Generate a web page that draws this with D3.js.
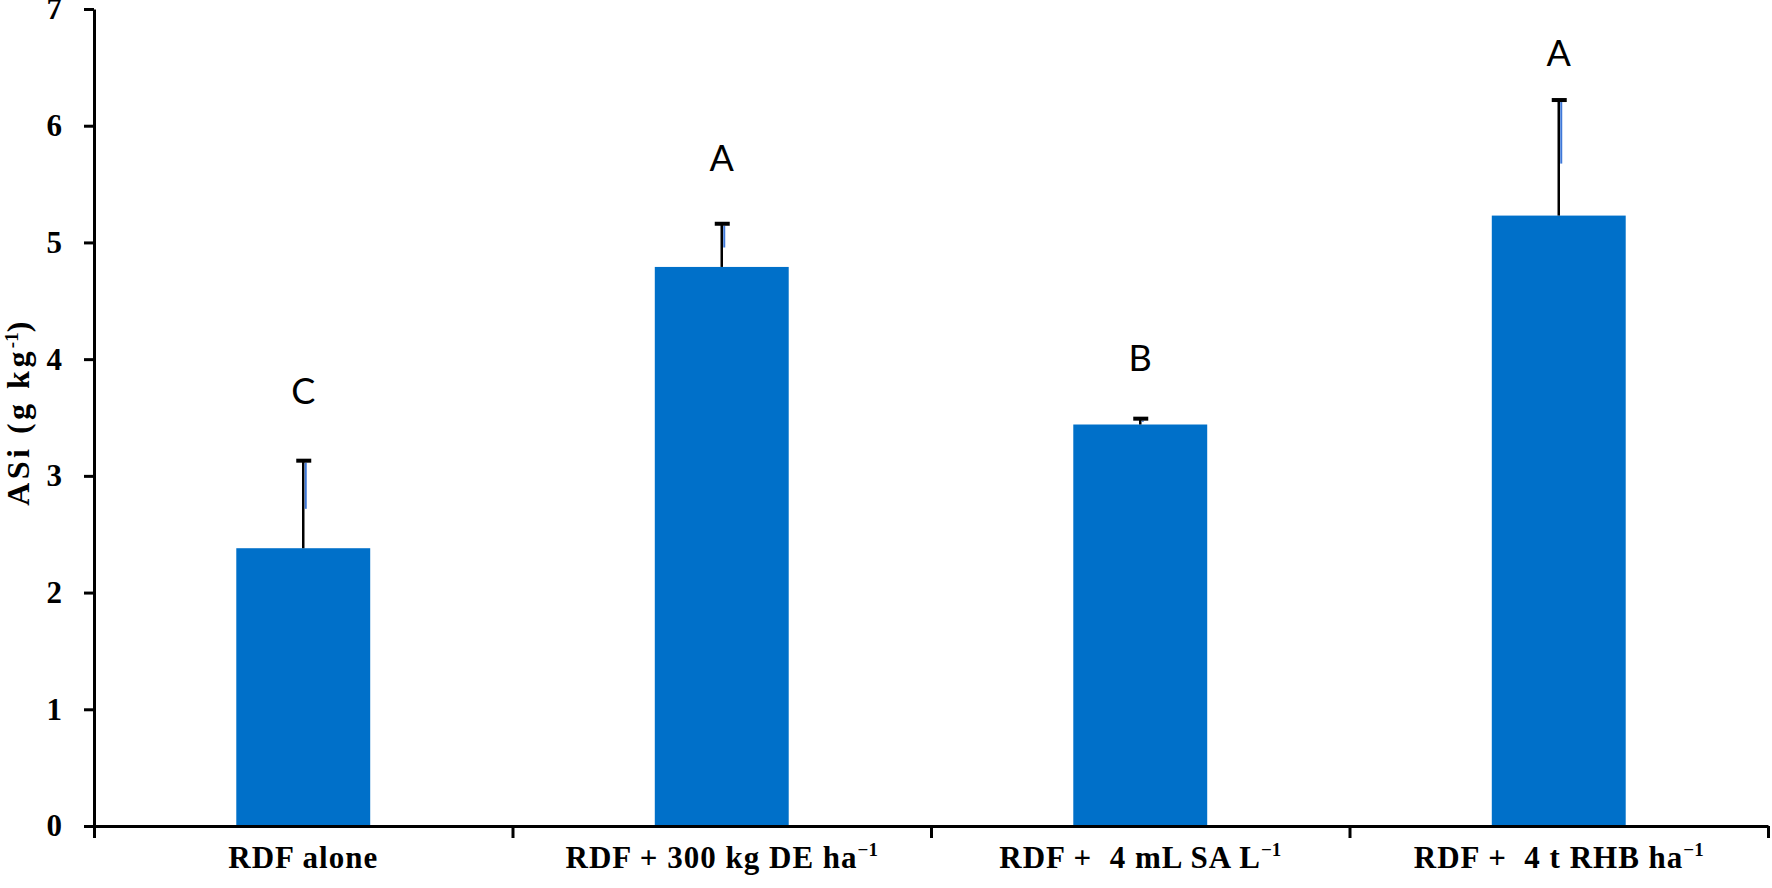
<!DOCTYPE html>
<html>
<head>
<meta charset="utf-8">
<script src="https://cdn.jsdelivr.net/npm/d3@7"></script>
<style>
  body { margin: 0; background: #fff; }
  svg { display: block; }
  .axis path, .axis line { stroke: #000; stroke-width: 3; }
  .axis text { font-family: "Liberation Serif", "Times New Roman", serif; font-weight: bold; font-size: 31px; fill: #000; }
  .xlab { white-space: pre; }
</style>
</head>
<body>
<div id="chart"></div>
<script>
// treatments on the x axis
const categories = ["RDF alone", "RDF + 300 kg DE ha", "RDF +  4 mL SA L", "RDF +  4 t RHB ha"];
// superscript that follows each label
const labelSup = ["", "\u22121", "\u22121", "\u22121"];
// ASi means (g kg-1) and standard errors
const means = [2.38, 4.79, 3.44, 5.23];
const errors = [0.75, 0.37, 0.05, 0.99];
// significance letters and the height (g kg-1) they sit at
const letters = ["C", "A", "B", "A"];
const letterAt = [3.73, 5.72, 4.01, 6.62];
const yTicks = [0, 1, 2, 3, 4, 5, 6, 7];

const W = 1772;
const H = 888;
const mLeft = 94, mRight = 1768, mTop = 9, mBottom = 826;

const svg = d3.select("#chart")
  .append("svg")
  .attr("width", W)
  .attr("height", H);

const x = d3.scaleBand()
  .domain(categories)
  .range([mLeft, mRight])
  .paddingInner(0.68)
  .paddingOuter(0.34);

const y = d3.scaleLinear()
  .domain([0, 7])
  .range([mBottom, mTop]);

// bars
svg.selectAll("rect.bar")
  .data(means)
  .enter()
  .append("rect")
  .attr("class", "bar")
  .attr("x", (d, i) => x(categories[i]))
  .attr("y", d => y(d))
  .attr("width", x.bandwidth())
  .attr("height", d => y(0) - y(d))
  .attr("fill", "#0070c9");

// error bars, upper half only
const cx = i => x(categories[i]) + x.bandwidth() / 2;
const err = svg.append("g");
means.forEach((m, i) => {
  const yTop = y(m + errors[i]);
  const yBar = y(m);
  err.append("line")
    .attr("x1", cx(i)).attr("x2", cx(i))
    .attr("y1", yBar).attr("y2", yTop)
    .attr("stroke", "#000").attr("stroke-width", 2.5);
  err.append("line")
    .attr("x1", cx(i) + 2.5).attr("x2", cx(i) + 2.5)
    .attr("y1", yTop + 2).attr("y2", yTop + (yBar - yTop) * 0.55)
    .attr("stroke", "#3f78d8").attr("stroke-width", 2);
  err.append("line")
    .attr("x1", cx(i) - 7).attr("x2", cx(i) + 8)
    .attr("y1", yTop).attr("y2", yTop)
    .attr("stroke", "#000").attr("stroke-width", 4);
});

// letters
svg.selectAll("text.letter")
  .data(letters)
  .enter()
  .append("text")
  .attr("class", "letter")
  .attr("x", (d, i) => cx(i))
  .attr("y", (d, i) => y(letterAt[i]))
  .attr("dy", "0.36em")
  .attr("text-anchor", "middle")
  .style("font-family", "Lato, 'Open Sans', sans-serif")
  .style("font-size", "36px")
  .attr("fill", "#000")
  .text(d => d);

// y axis
svg.append("g")
  .attr("class", "axis")
  .attr("transform", `translate(${mLeft},0)`)
  .call(d3.axisLeft(y).tickValues(yTicks).tickFormat(d3.format("d"))
    .tickSize(10).tickSizeOuter(0).tickPadding(22));

// x axis: ticks at category boundaries
const step = x.step();
const bounds = d3.range(categories.length + 1);
const xb = d3.scaleLinear()
  .domain([0, categories.length])
  .range([mLeft, mLeft + step * categories.length]);
svg.append("g")
  .attr("class", "axis")
  .attr("transform", `translate(0,${mBottom})`)
  .call(d3.axisBottom(xb).tickValues(bounds).tickFormat("")
    .tickSize(12).tickSizeOuter(0));

// x labels
const xl = svg.selectAll("text.xlab")
  .data(categories)
  .enter()
  .append("text")
  .attr("class", "xlab")
  .attr("x", (d, i) => cx(i))
  .attr("y", 868)
  .attr("text-anchor", "middle")
  .style("font-family", "'Liberation Serif', 'Times New Roman', serif")
  .style("font-weight", "bold")
  .style("font-size", "31px")
  .style("letter-spacing", "1px")
  .attr("fill", "#000");
xl.append("tspan").text(d => d);
xl.append("tspan")
  .attr("dy", -12)
  .style("font-size", "19px")
  .style("letter-spacing", "0px")
  .text((d, i) => labelSup[i]);

// y title
const yt = svg.append("text")
  .attr("transform", "translate(29,412) rotate(-90)")
  .attr("text-anchor", "middle")
  .style("font-family", "'Liberation Serif', 'Times New Roman', serif")
  .style("font-weight", "bold")
  .style("font-size", "32px")
  .style("letter-spacing", "3.5px")
  .attr("fill", "#000");
yt.append("tspan").text("ASi (g kg");
yt.append("tspan").attr("dy", -11).style("font-size", "19px").style("letter-spacing", "0px").text("-1");
yt.append("tspan").attr("dy", 11).text(")");
</script>
</body>
</html>
